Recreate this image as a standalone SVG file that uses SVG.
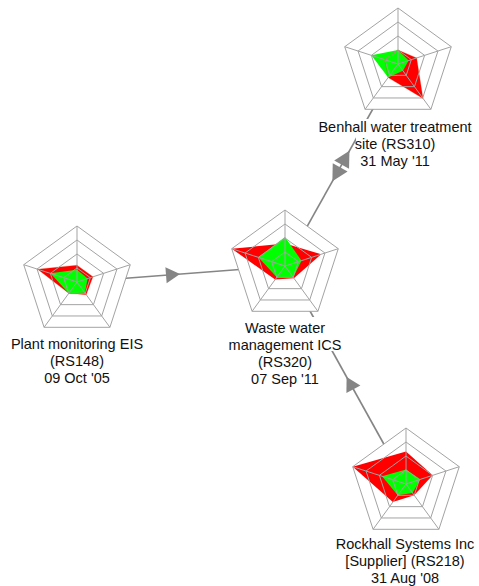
<svg xmlns="http://www.w3.org/2000/svg" xmlns:xlink="http://www.w3.org/1999/xlink" width="479" height="586" viewBox="0 0 479 586">
  <style>
    .edge { stroke: #858585; stroke-width: 1.6; fill: none; }
    .head { fill: #858585; stroke: none; }
    .max { fill: #ff0000; stroke: none; }
    .cur { fill: #00ff00; stroke: none; }
    .maxline { fill: none; stroke: #d04000; stroke-width: 0.8; stroke-opacity: 0.3; }
    .lbl { font-family: "Liberation Sans", Arial, sans-serif; font-size: 14.5px; fill: #111; text-anchor: middle; }
    .lblbg { fill: #fff; }
  </style>
  <defs>
    <!-- radar face, radius 56, five axes starting at the top -->
    <polygon id="face" points="0,-56 53.26,-17.3 32.92,45.3 -32.92,45.3 -53.26,-17.3"/>
    <g id="grid" fill="none" stroke="#a3a3a3" stroke-width="1">
      <polygon points="0,-56 53.26,-17.3 32.92,45.3 -32.92,45.3 -53.26,-17.3"/>
      <polygon points="0,-42 39.95,-12.98 24.69,33.98 -24.69,33.98 -39.95,-12.98"/>
      <polygon points="0,-28 26.63,-8.65 16.46,22.65 -16.46,22.65 -26.63,-8.65"/>
      <polygon points="0,-14 13.32,-4.33 8.23,11.33 -8.23,11.33 -13.32,-4.33"/>
      <path d="M0,0V-56M0,0L53.26,-17.3M0,0L32.92,45.3M0,0L-32.92,45.3M0,0L-53.26,-17.3"/>
    </g>
  </defs>

  <!-- links between systems, with direction heads at mid-length -->
  <g id="connectors">
    <line class="edge" x1="77" y1="282" x2="285" y2="266"/>
    <line class="edge" x1="285" y1="266" x2="398" y2="64"/>
    <line class="edge" x1="406" y1="484" x2="285" y2="266"/>
    <polygon class="head" points="180,274.1 166.65,283.2 165.4,267.2"/>
    <polygon class="head" points="346.6,377 360.4,385.4 346.4,393.1"/>
    <polygon class="head" points="349.44,150.73 349.05,168.84 334.21,160.54"/>
    <polygon class="head" points="332.36,181.27 347.59,171.46 332.75,163.16"/>
  </g>

  <g id="node-rs310" transform="translate(398,64)">
    <use xlink:href="#face" fill="#fff"/>
    <polygon class="max" points="0,-14 18.64,-6.06 25.02,34.43 -9.88,13.59 -13.32,-4.33"/>
    <polygon class="cur" points="0,-14 10.65,-3.46 4.94,6.8 -9.88,13.59 -26.63,-8.65"/>
    <use xlink:href="#grid"/>
    <polygon class="maxline" points="0,-14 18.64,-6.06 25.02,34.43 -9.88,13.59 -13.32,-4.33"/>
    <rect class="lblbg" x="-79.5" y="55" width="153" height="17"/>
    <rect class="lblbg" x="-42" y="72" width="78" height="17"/>
    <rect class="lblbg" x="-37" y="89" width="68" height="17"/>
    <text class="lbl" x="-3" y="68">Benhall water treatment</text>
    <text class="lbl" x="-3" y="85">site (RS310)</text>
    <text class="lbl" x="-3" y="102">31 May '11</text>
  </g>

  <g id="node-rs148" transform="translate(77,282)">
    <use xlink:href="#face" fill="#fff"/>
    <polygon class="max" points="0,-16.8 15.98,-5.19 9.22,12.68 -8.23,11.33 -39.41,-12.8"/>
    <polygon class="cur" points="0,-12.32 10.65,-3.46 7.9,10.87 -8.23,11.33 -26.63,-8.65"/>
    <use xlink:href="#grid"/>
    <polygon class="maxline" points="0,-16.8 15.98,-5.19 9.22,12.68 -8.23,11.33 -39.41,-12.8"/>
    <text class="lbl" x="0" y="67">Plant monitoring EIS</text>
    <text class="lbl" x="0" y="84">(RS148)</text>
    <text class="lbl" x="0" y="101">09 Oct '05</text>
  </g>

  <g id="node-rs320" transform="translate(285,266)">
    <use xlink:href="#face" fill="#fff"/>
    <polygon class="max" points="0,-22.4 36.22,-11.76 8.89,12.23 -9.88,13.59 -53.26,-17.3"/>
    <polygon class="cur" points="0,-29.12 16.51,-5.36 8.23,11.33 -8.23,11.33 -26.63,-8.65"/>
    <use xlink:href="#grid"/>
    <rect class="lblbg" x="-40" y="51" width="80" height="17"/>
    <rect class="lblbg" x="-56" y="68" width="112" height="17"/>
    <rect class="lblbg" x="-27" y="85" width="54" height="17"/>
    <rect class="lblbg" x="-34" y="102" width="68" height="17"/>
    <text class="lbl" x="0" y="67">Waste water</text>
    <text class="lbl" x="0" y="84">management ICS</text>
    <text class="lbl" x="0" y="101">(RS320)</text>
    <text class="lbl" x="0" y="118">07 Sep '11</text>
  </g>

  <g id="node-rs218" transform="translate(406,484)">
    <use xlink:href="#face" fill="#fff"/>
    <polygon class="max" points="0,-32.48 26.63,-8.65 8.23,11.33 -13.17,18.12 -53.26,-17.3"/>
    <polygon class="cur" points="0,-14.56 14.38,-4.67 6.58,9.06 -8.23,11.33 -23.97,-7.79"/>
    <use xlink:href="#grid"/>
    <text class="lbl" x="-1" y="65">Rockhall Systems Inc</text>
    <text class="lbl" x="-1" y="82">[Supplier] (RS218)</text>
    <text class="lbl" x="-1" y="99">31 Aug '08</text>
  </g>
</svg>
